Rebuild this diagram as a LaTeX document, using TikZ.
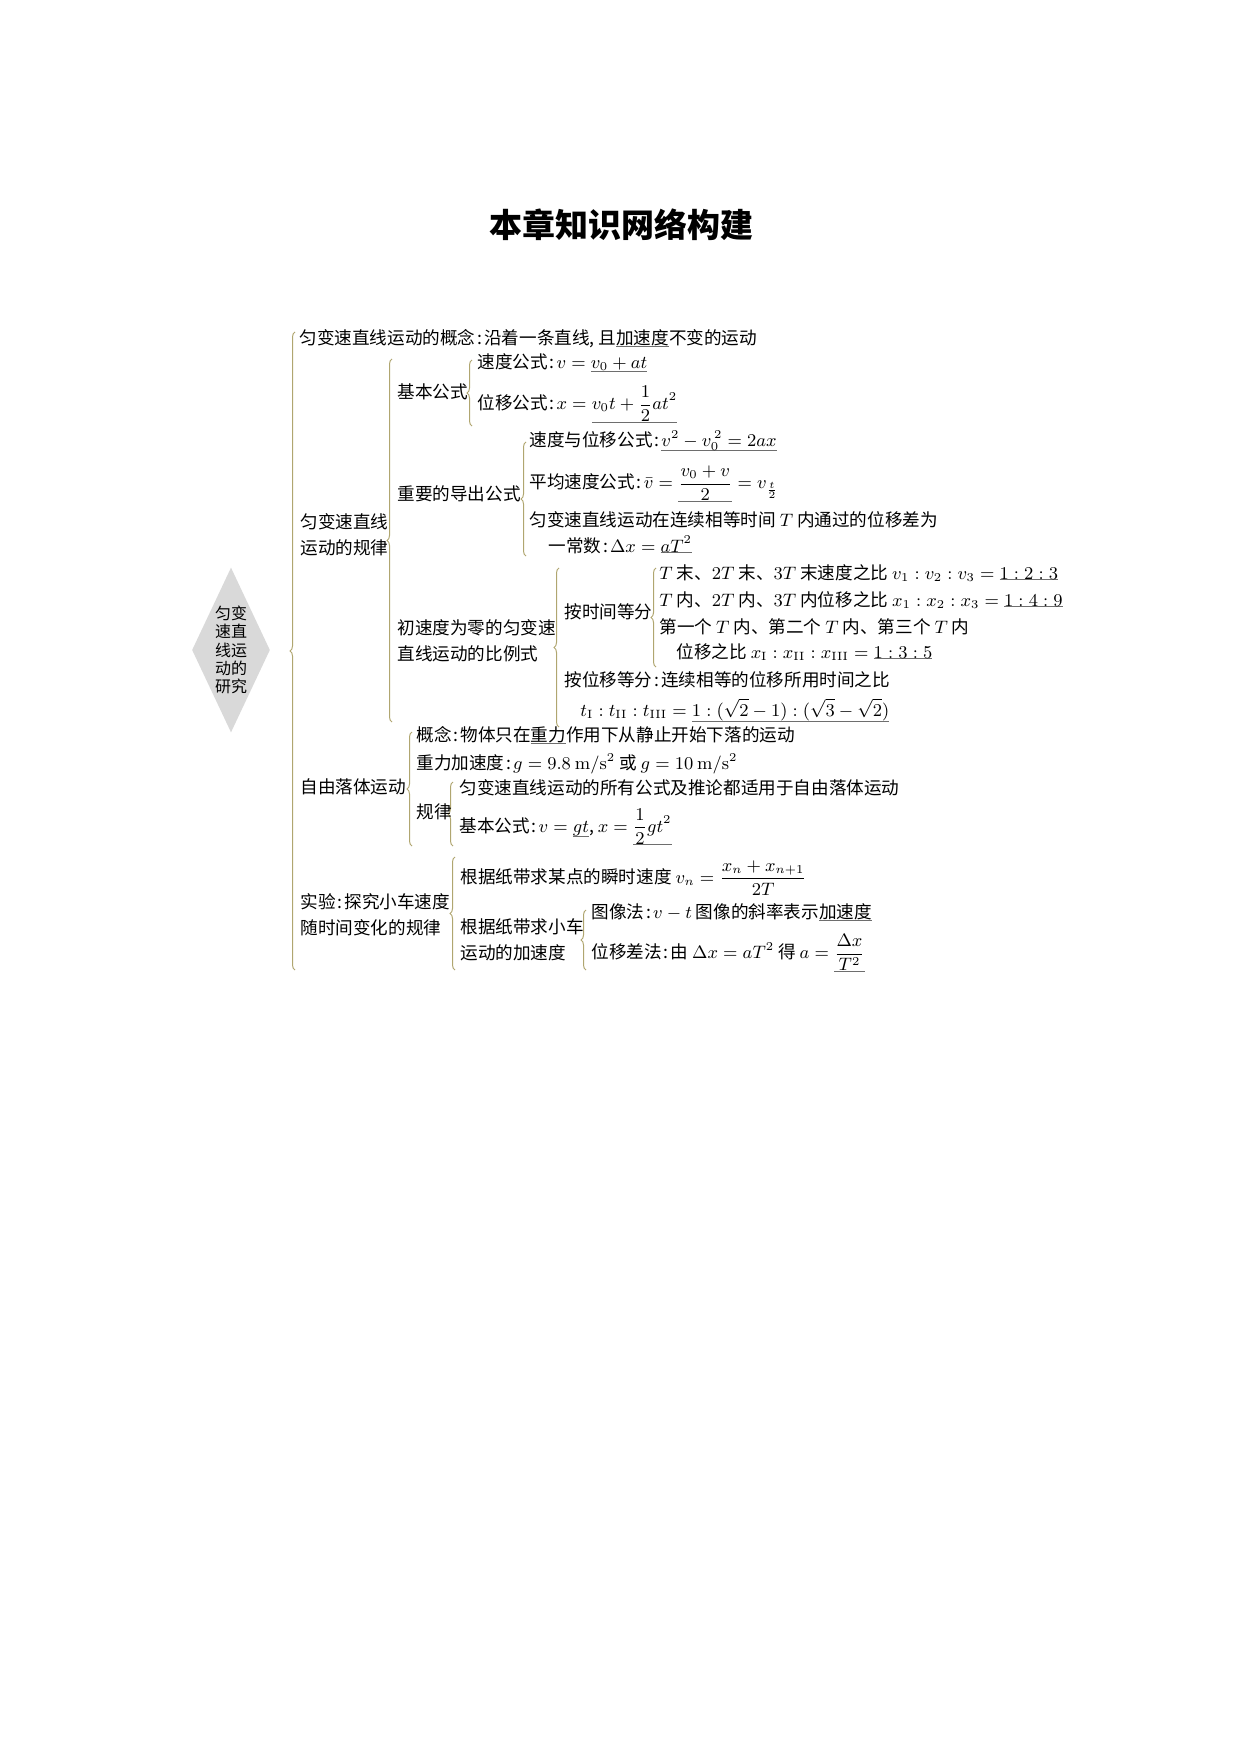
\documentclass[tikz,border=0pt]{standalone}
\usepackage[no-math]{fontspec}
\setmainfont{Noto Sans CJK SC}
\usepackage{amsmath}
\usetikzlibrary{shapes.geometric, decorations.pathreplacing}

\definecolor{bracecol}{RGB}{176,166,112}
\definecolor{blankcol}{RGB}{110,110,110}
\definecolor{diamondcol}{RGB}{217,217,217}

% blank line under an answer
\newcommand\fillin[1]{\setbox0\hbox{#1}\rlap{\color{blankcol}\rule[-\dimexpr\dp0+0.6pt\relax]{\wd0}{0.5pt}}\box0}
\newcommand\fillm[1]{\fillin{$\displaystyle #1$}}
% narrow punctuation
\newcommand\cln{\hbox to 0.5em{\hss:\hss}}
\newcommand\cma{\hbox to 0.5em{,\hss}}

\begin{document}
\begin{tikzpicture}[x=0.5pt, y=-0.5pt,
		txt/.style={anchor=base west, inner sep=0pt, font=\fontsize{8.8}{13}\selectfont},
		two/.style={anchor=west, inner sep=0pt, align=left, font=\fontsize{8.8}{13}\selectfont},
		brc/.style={draw=bracecol, line width=0.5pt, decorate, decoration={brace, amplitude=2.5pt}},
		root/.style={diamond, fill=diamondcol, aspect=0.47, inner sep=0pt, minimum width=39pt, minimum height=82.5pt, align=center, font=\fontsize{8}{9.2}\selectfont}]
		\useasboundingbox (0,0) rectangle (1240,1754);
		
		\node[font=\fontsize{16.5}{16.5}\selectfont\bfseries] (title) at (621,225) {本章知识网络构建};
		\node[root] (root) at (231,650) {匀变\\速直\\线运\\动的\\研究};
		
		% braces
		\foreach \bn/\bx/\bt/\bb in {b0/295/332/970, b1/392/359/722, b2/472/360/426, b3/526/442/556, b4/559/568/727, b5/656/568/667, b6/412/732/846, b7/453/782/846, b8/455/857/970, b9/586/910/970}{
			\coordinate (\bn top) at (\bx,\bt);
			\coordinate (\bn bot) at (\bx,\bb);
			\draw[brc] (\bn bot) -- (\bn top);
		}
		
		% 匀变速直线运动
		\node[txt] (concept) at (299,344.5) {匀变速直线运动的概念\cln 沿着一条直线\cma 且\fillin{加速度}不变的运动};
		\node[two] (law) at (300,535) {匀变速直线\\运动的规律};
		\node[txt] (basic) at (397,398.5) {基本公式};
		\node[txt] (vel) at (477,369) {速度公式\cln $v=\fillm{v_0+at}$};
		\node[txt] (disp) at (477,409.5) {位移公式\cln $x=\fillm{v_0t+\frac{1}{2}at^2}$};
		\node[txt] (derived) at (397,500) {重要的导出公式};
		\node[txt] (veldisp) at (529,447) {速度与位移公式\cln $\fillm{v^2-v_0^{\,2}=2ax}$};
		\node[txt] (avg) at (529,488.5) {平均速度公式\cln $\bar{v}=\fillm{\frac{v_0+v}{2}}=v_{\frac{t}{2}}$};
		\node[txt] (diffa) at (529,526.5) {匀变速直线运动在连续相等时间 $T$ 内通过的位移差为};
		\node[txt] (diffb) at (548,552) {一常数\cln $\Delta x=\fillm{aT^2}$};
		\node[two] (ratio) at (397,641) {初速度为零的匀变速\\直线运动的比例式};
		\node[txt] (bytime) at (564,618.5) {按时间等分};
		\node[txt] (tvel) at (659,579) {$T$ 末、$2T$ 末、$3T$ 末速度之比 $v_1:v_2:v_3=\fillm{1:2:3}$};
		\node[txt] (tdisp) at (659,606) {$T$ 内、$2T$ 内、$3T$ 内位移之比 $x_1:x_2:x_3=\fillm{1:4:9}$};
		\node[txt] (tseq) at (659,633) {第一个 $T$ 内、第二个 $T$ 内、第三个 $T$ 内};
		\node[txt] (tseqb) at (676,658) {位移之比 $x_{\mathrm{I}}:x_{\mathrm{II}}:x_{\mathrm{III}}=\fillm{1:3:5}$};
		\node[txt] (bydisp) at (564,686) {按位移等分\cln 连续相等的位移所用时间之比};
		\node[txt] (bydispb) at (580,716) {$t_{\mathrm{I}}:t_{\mathrm{II}}:t_{\mathrm{III}}=\fillm{1:(\sqrt{2}-1):(\sqrt{3}-\sqrt{2})}$};
		
		% 自由落体运动
		\node[txt] (fall) at (300,793) {自由落体运动};
		\node[txt] (fconcept) at (416,741) {概念\cln 物体只在\fillin{重力}作用下从静止开始下落的运动};
		\node[txt] (fg) at (416,769.5) {重力加速度\cln $g=9.8\ \mathrm{m/s^2}$ 或 $g=10\ \mathrm{m/s^2}$};
		\node[txt] (frule) at (416,818) {规律};
		\node[txt] (fall1) at (459,794.5) {匀变速直线运动的所有公式及推论都适用于自由落体运动};
		\node[txt] (fall2) at (459,832) {基本公式\cln $v=\fillm{gt}\cma x=\fillm{\frac{1}{2}gt^2}$};
		
		% 实验
		\node[two] (exp) at (300,914.5) {实验\cln 探究小车速度\\随时间变化的规律};
		\node[txt] (vinst) at (460,883) {根据纸带求某点的瞬时速度 $v_n=\dfrac{x_n+x_{n+1}}{2T}$};
		\node[two] (acc) at (460,940) {根据纸带求小车\\运动的加速度};
		\node[txt] (graph) at (591,918.5) {图像法\cln $v-t$ 图像的斜率表示\fillin{加速度}};
		\node[txt] (delta) at (591,958.5) {位移差法\cln 由 $\Delta x=aT^2$ 得 $a=\fillm{\frac{\Delta x}{T^2}}$};
\end{tikzpicture}
\end{document}
